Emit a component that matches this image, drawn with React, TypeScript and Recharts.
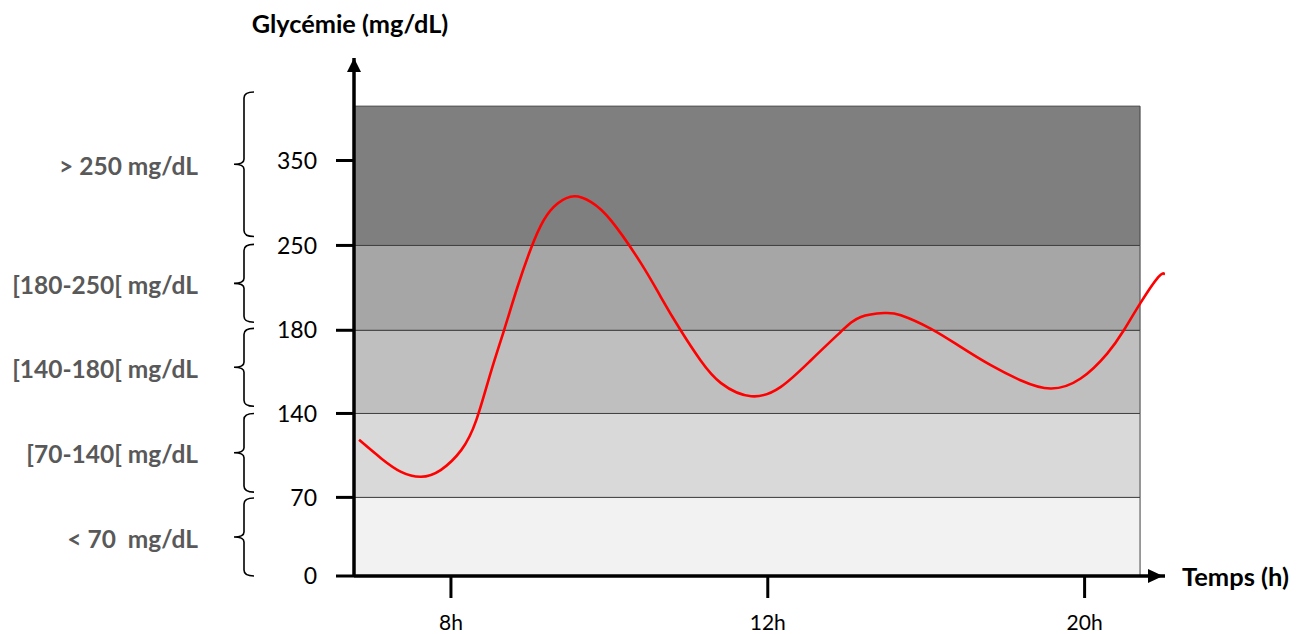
import React from 'react';
import {
  LineChart,
  Line,
  XAxis,
  YAxis,
  ReferenceArea,
  ReferenceDot,
} from 'recharts';

// ---- Data ----
const yTickValues = [0, 70, 140, 180, 250, 350];
const yTickLabels = ['0', '70', '140', '180', '250', '350'];
const xTickHours = [8, 12, 20];
const xTickLabels = ['8h', '12h', '20h'];

const hours = [
  6.84, 7.12, 7.37, 7.62, 7.87, 8.13, 8.32, 8.5, 8.67, 8.84, 9.01, 9.17, 9.35, 9.56, 9.77, 10.02,
  10.4, 10.65, 10.9, 11.15, 11.41, 11.79, 12.33, 13.09, 13.84, 14.35, 14.94, 15.36, 16.11, 16.87,
  17.63, 18.38, 19.14, 19.9, 20.57, 20.99, 21.4, 21.86, 22.03,
];
const glycemia = [
  118, 102.5, 91.3, 87.2, 92.8, 109.4, 134.4, 159.4, 180, 215.7, 247.5, 279.5, 299.6, 307.9, 301.1, 279.5,
  235.2, 207.4, 180, 165.6, 154.6, 148.3, 152.8, 165.6, 179.2, 191, 194.2, 192.4, 181.4, 172,
  163.2, 156, 152, 156.8, 168.8, 180, 202, 223.9, 226,
];

const bandLows = [0, 70, 140, 180, 250];
const bandHighs = [70, 140, 180, 250, 414];
const bandFills = ['#f2f2f2', '#d9d9d9', '#bfbfbf', '#a6a6a6', '#7f7f7f'];
const bandLabels = ['<\u00a070\u00a0\u00a0mg/dL', '[70-140[ mg/dL', '[140-180[ mg/dL', '[180-250[ mg/dL', '> 250 mg/dL'];
const braceLows = [0, 74.4, 143.5, 186.6, 260.6];
const braceHighs = [69.4, 140, 181.6, 251.2, 430.6];
const bandEndHour = 21.4;
const xDomainHours = [6.776, 22.03];
const yDomainMax = 470.7;

// ---- Axis scales: the original axes are drawn almost ordinally (one step per tick) ----
// drawn position of each y tick, in axis steps
const yTickSteps = [0, 0.946, 1.956, 2.957, 3.978, 5];
function toYUnit(g: number): number {
  const v = yTickValues;
  const s = yTickSteps;
  const n = v.length - 1;
  if (g >= v[n]) return s[n] + ((g - v[n]) * (s[n] - s[n - 1])) / (v[n] - v[n - 1]);
  for (let i = 0; i < n; i++) {
    if (g <= v[i + 1]) return s[i] + ((g - v[i]) * (s[i + 1] - s[i])) / (v[i + 1] - v[i]);
  }
  return 0;
}
function toXUnit(h: number): number {
  const v = xTickHours;
  if (h <= v[1]) return 1 + (h - v[0]) / (v[1] - v[0]);
  return 2 + (h - v[1]) / (v[2] - v[1]);
}

const data = hours.map((h, i) => ({ x: toXUnit(h), y: toYUnit(glycemia[i]) }));
const xTicks = xTickHours.map(toXUnit);
const yTicks = yTickValues.map(toYUnit);

const FONT = 'Lato, "Open Sans", sans-serif';

const Brace = (label: string) => (props: any) => {
  const { x, y, height } = props;
  const xv = x - 110;
  const yt = y;
  const yb = y + height;
  const ym = (yt + yb) / 2;
  const d = `M ${xv + 10} ${yt} Q ${xv} ${yt} ${xv} ${yt + 6} L ${xv} ${ym - 5} Q ${xv} ${ym} ${xv - 10} ${ym} Q ${xv} ${ym} ${xv} ${ym + 5} L ${xv} ${yb - 6} Q ${xv} ${yb} ${xv + 10} ${yb}`;
  return (
    <g>
      <path d={d} fill="none" stroke="#000" strokeWidth={1.6} />
      <text
        x={x - 156}
        y={ym + 1}
        textAnchor="end"
        dominantBaseline="central"
        fill="#595959"
        fontFamily={FONT}
        fontWeight={700}
        fontSize={24.5}
      >
        {label}
      </text>
    </g>
  );
};

const UpArrow = (props: any) => {
  const { cx, cy } = props;
  return <path d={`M ${cx} ${cy} L ${cx + 7} ${cy + 14} L ${cx - 7} ${cy + 14} Z`} fill="#000" />;
};
const RightArrow = (props: any) => {
  const { cx, cy } = props;
  return <path d={`M ${cx - 2} ${cy} L ${cx - 17} ${cy - 7} L ${cx - 17} ${cy + 7} Z`} fill="#000" />;
};

export default function App() {
  const xMin = toXUnit(xDomainHours[0]);
  const xMax = toXUnit(xDomainHours[1]);
  const yMax = toYUnit(yDomainMax);
  return (
    <div style={{ position: 'absolute', left: 0, top: 0, width: 1301, height: 634, background: '#fff' }}>
      <LineChart
        width={1301}
        height={634}
        data={data}
        margin={{ top: 58, right: 136, bottom: 0, left: 0 }}
      >
        <XAxis
          dataKey="x"
          type="number"
          domain={[xMin, xMax]}
          allowDataOverflow
          ticks={xTicks}
          tickFormatter={(v: number) => {
            const i = xTicks.findIndex((t) => Math.abs(t - v) < 1e-6);
            return i >= 0 ? xTickLabels[i] : '';
          }}
          height={58}
          tickSize={22}
          tickMargin={17}
          axisLine={{ stroke: '#000', strokeWidth: 3.5 }}
          tickLine={{ stroke: '#000', strokeWidth: 3 }}
          tick={{ fill: '#000', fontSize: 21, fontFamily: FONT }}
          label={{
            content: (p: any) => {
              const vb = p.viewBox || {};
              return (
                <text
                  x={vb.x + vb.width + 17}
                  y={vb.y}
                  dominantBaseline="central"
                  fill="#000"
                  fontFamily={FONT}
                  fontWeight={700}
                  fontSize={25.5}
                >
                  Temps (h)
                </text>
              );
            },
          }}
        />
        <YAxis
          type="number"
          domain={[0, yMax]}
          allowDataOverflow
          ticks={yTicks}
          tickFormatter={(v: number) => {
            const i = yTicks.findIndex((t) => Math.abs(t - v) < 1e-6);
            return i >= 0 ? yTickLabels[i] : '';
          }}
          width={354}
          tickSize={18}
          tickMargin={19}
          axisLine={{ stroke: '#000', strokeWidth: 3.5 }}
          tickLine={{ stroke: '#000', strokeWidth: 3 }}
          tick={{ fill: '#000', fontSize: 23, fontFamily: FONT }}
          label={{
            content: (p: any) => {
              const vb = p.viewBox || {};
              return (
                <text
                  x={vb.x + vb.width - 4}
                  y={vb.y - 35}
                  textAnchor="middle"
                  dominantBaseline="central"
                  fill="#000"
                  fontFamily={FONT}
                  fontWeight={700}
                  fontSize={25.3}
                >
                  Glycémie (mg/dL)
                </text>
              );
            },
          }}
        />
        {bandLows.map((lo, i) => (
          <ReferenceArea
            key={`band-${i}`}
            x1={xMin}
            x2={toXUnit(bandEndHour)}
            y1={toYUnit(lo)}
            y2={toYUnit(bandHighs[i])}
            fill={bandFills[i]}
            fillOpacity={1}
            stroke="#404040"
            strokeWidth={1}
            ifOverflow="visible"
          />
        ))}
        {braceLows.map((lo, i) => (
          <ReferenceArea
            key={`brace-${i}`}
            y1={toYUnit(lo)}
            y2={toYUnit(braceHighs[i])}
            ifOverflow="visible"
            shape={Brace(bandLabels[i])}
          />
        ))}
        <Line
          type="natural"
          dataKey="y"
          stroke="#ff0000"
          strokeWidth={2.6}
          dot={false}
          activeDot={false}
          isAnimationActive={false}
        />
        <ReferenceDot x={xMin} y={yMax} r={1} ifOverflow="visible" shape={UpArrow} />
        <ReferenceDot x={xMax} y={0} r={1} ifOverflow="visible" shape={RightArrow} />
      </LineChart>
    </div>
  );
}
